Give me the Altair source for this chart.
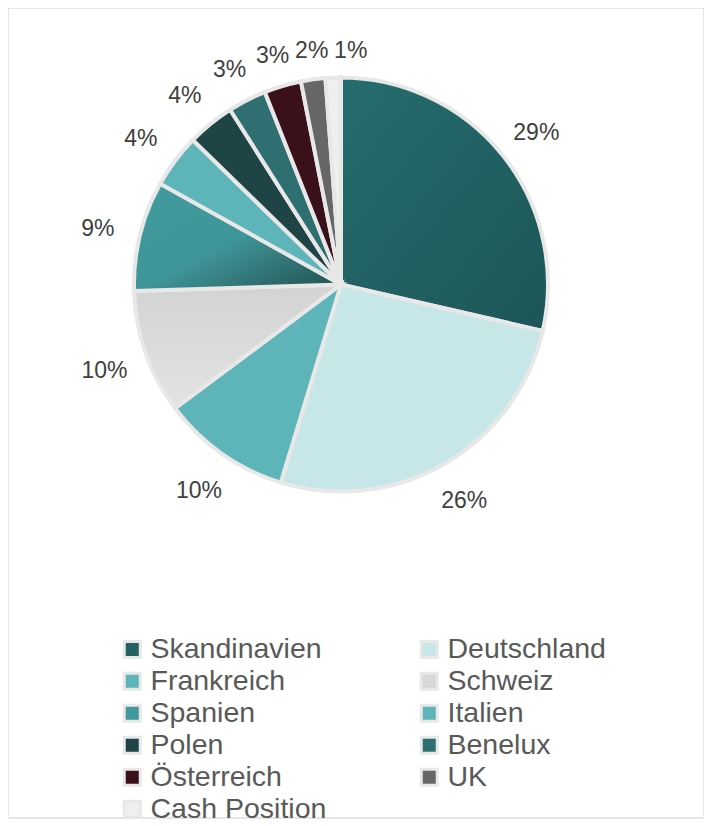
import altair as alt
import pandas as pd

regions = ["Skandinavien", "Deutschland", "Frankreich", "Schweiz", "Spanien", "Italien",
           "Polen", "Benelux", "Österreich", "UK", "Cash Position"]
shares = [28.6, 26.1, 10.1, 9.7, 8.6, 4.2, 3.7, 3.0, 2.9, 1.9, 1.2]
colors = ["#236163", "#c6e6e8", "#5db5b9", "#d8d8d8", "#409a9d", "#5db5b9",
          "#1e4446", "#2f6f72", "#3a111b", "#666666", "#efefef"]
# legend reads row by row in two columns
legend_order = ["Skandinavien", "Frankreich", "Spanien", "Polen", "Österreich", "Cash Position",
                "Deutschland", "Schweiz", "Italien", "Benelux", "UK"]

df = pd.DataFrame({"region": regions, "share": shares, "idx": list(range(len(regions)))})


def grad(x1, y1, x2, y2, stops):
    return {"gradient": "linear", "x1": x1, "y1": y1, "x2": x2, "y2": y2,
            "stops": [{"offset": o, "color": c} for o, c in stops]}


gradients = {
    "Skandinavien": grad(0, 0, 1, 1, [(0, "#266d6f"), (1, "#1d5557")]),
    "Schweiz": grad(0, 0, 0, 1, [(0, "#d3d3d3"), (1, "#e3e3e3")]),
    "Spanien": grad(0, 0, 1, 1, [(0, "#419b9e"), (0.5, "#3f9699"), (0.8, "#2d6a6c"), (1, "#21504f")]),
}
conditions = [{"test": f"datum.region === '{k}'", "value": v} for k, v in gradients.items()]

# minimal angular gap between neighbouring labels (fraction of the full circle)
GAP = 0.026

base = alt.Chart(df).transform_joinaggregate(
    total="sum(share)"
).transform_window(
    cum="sum(share)", sort=[alt.SortField("idx")], frame=[None, 0]
).transform_calculate(
    midf="(datum.cum - datum.share / 2) / datum.total",
).transform_calculate(
    shifted=f"datum.midf - datum.idx * {GAP}",
).transform_window(
    pushed="max(shifted)", sort=[alt.SortField("idx")], frame=[None, 0]
).transform_calculate(
    mid=f"(datum.pushed + datum.idx * {GAP}) * 2 * PI",
).transform_calculate(
    lr="229 + 8 * abs(cos(datum.mid)) + 20 * abs(sin(datum.mid))",
    label="format(datum.share, '.0f') + '%'",
)

cx, cy = 333, 276.5

pie = base.mark_arc(outerRadius=207, stroke="#e8e8e8", strokeWidth=4).encode(
    theta=alt.Theta("share:Q", stack=True),
    order=alt.Order("idx:Q", sort="ascending"),
    color=alt.Color(
        "region:N",
        scale=alt.Scale(domain=regions, range=colors),
        condition=conditions,
        legend=alt.Legend(
            title=None, orient="none", legendX=110, legendY=627, columns=2,
            values=legend_order,
            symbolType="square", symbolSize=256, symbolStrokeColor="#e8e8e8",
            symbolStrokeWidth=3, symbolOpacity=1,
            labelFont="Liberation Sans", labelFontSize=28.5, labelColor="#595959",
            labelOffset=4, labelLimit=400, columnPadding=88, rowPadding=3,
        ),
    ),
    x=alt.value(cx),
    y=alt.value(cy),
)

text = base.mark_text(font="Liberation Sans", fontSize=23, color="#404040", dy=4).encode(
    theta=alt.Theta("mid:Q", scale=None),
    radius=alt.Radius("lr:Q", scale=None),
    text=alt.Text("label:N"),
    x=alt.value(cx),
    y=alt.value(cy),
)

chart = alt.layer(pie, text).resolve_scale(theta="independent").properties(
    width=696, height=810, padding=0
).configure_view(stroke="#e6e6e6", strokeWidth=2)

chart.save("out.html", embed_options={"renderer": "svg", "actions": False})
